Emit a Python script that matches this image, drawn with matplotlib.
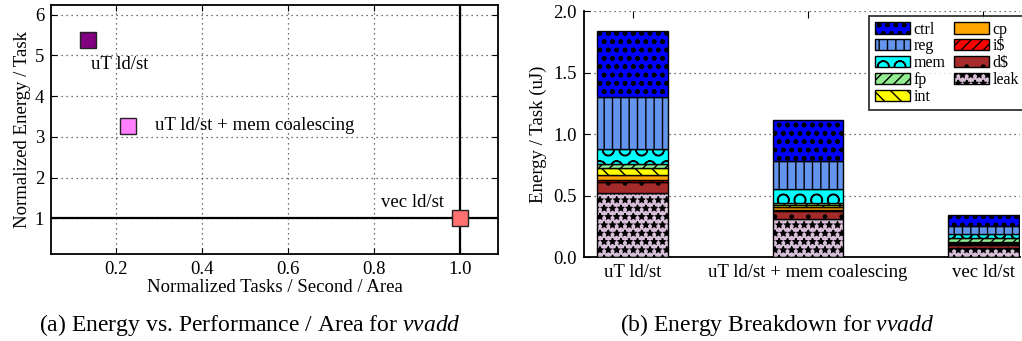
import numpy as np
import matplotlib.pyplot as plt

plt.rcParams['font.family'] = ['Liberation Serif', 'DejaVu Serif']
plt.rcParams['hatch.linewidth'] = 1.0
plt.rcParams['mathtext.fontset'] = 'custom'
plt.rcParams['mathtext.it'] = 'Liberation Serif:italic'

# (a) scatter: normalized perf/area vs normalized energy/task
configs = ["uT ld/st", "uT ld/st + mem coalescing", "vec ld/st"]
perf_area = [0.136, 0.229, 1.0]
energy_norm = [5.38, 3.26, 1.0]
marker_colors = ["#800080", "#ff80ff", "#ff7070"]

# (b) stacked energy breakdown (uJ per task), bottom to top
components = ["leak", "d$", "i$", "cp", "int", "fp", "mem", "reg", "ctrl"]
energy = {
    "leak": [0.52, 0.31, 0.07],
    "d$":   [0.09, 0.065, 0.03],
    "i$":   [0.015, 0.01, 0.005],
    "cp":   [0.04, 0.02, 0.01],
    "int":  [0.06, 0.015, 0.01],
    "fp":   [0.035, 0.02, 0.03],
    "mem":  [0.12, 0.11, 0.035],
    "reg":  [0.42, 0.23, 0.06],
    "ctrl": [0.54, 0.335, 0.095],
}
comp_colors = {"leak": "#d8bfd8", "d$": "#a52a2a", "i$": "#ff0000", "cp": "#ffa500",
               "int": "#ffff00", "fp": "#90ee90", "mem": "#00ffff", "reg": "#6495ed",
               "ctrl": "#0000ff"}
comp_hatch = {"leak": "**", "d$": ".", "i$": "///", "cp": "", "int": "\\\\",
              "fp": "///", "mem": "O", "reg": "||", "ctrl": "oo.."}
legend_order = ["ctrl", "reg", "mem", "fp", "int", "cp", "i$", "d$", "leak"]

# label positions for panel (a), data coords
label_xy = [(0.143, 4.77), (0.291, 3.29), (0.816, 1.38)]

fig = plt.figure(figsize=(10.22, 3.41), dpi=100)
fs = 13.5

# ---------- (a)
ax1 = fig.add_axes([0.0499, 0.2551, 0.4374, 0.7302])
ax1.set_xlim(0.05, 1.0875)
ax1.set_ylim(0.12, 6.24)
ax1.set_xticks([0.2, 0.4, 0.6, 0.8, 1.0])
ax1.set_yticks([1, 2, 3, 4, 5, 6])
ax1.grid(True, linestyle=(0, (1, 3)), color="#444444", linewidth=0.9)
ax1.axvline(1.0, color="black", linewidth=1.6, zorder=2)
ax1.axhline(1.0, color="black", linewidth=1.6, zorder=2)
for x, y, c in zip(perf_area, energy_norm, marker_colors):
    ax1.plot(x, y, "s", markersize=11.5, color=c, markeredgecolor="#222222",
             markeredgewidth=1.0, zorder=3)
for (lx, ly), name in zip(label_xy, configs):
    ax1.text(lx, ly, name, fontsize=fs, va="center", ha="left")
ax1.tick_params(direction="in", length=4, labelsize=fs, pad=5, top=True, right=True)
for s in ax1.spines.values():
    s.set_linewidth(1.3)
ax1.set_xlabel("Normalized Tasks / Second / Area", fontsize=fs, labelpad=1)
ax1.set_ylabel("Normalized Energy / Task", fontsize=fs, labelpad=3)

# ---------- (b)
ax2 = fig.add_axes([0.5714, 0.2463, 0.4266, 0.7214])
xpos = np.arange(len(configs))
bottom = np.zeros(len(configs))
handles = {}
for comp in components:
    vals = np.array(energy[comp])
    h = ax2.bar(xpos, vals, width=0.404, bottom=bottom, color=comp_colors[comp],
                hatch=comp_hatch[comp], edgecolor="black", linewidth=1.0, zorder=3,
                label=comp)
    handles[comp] = h
    bottom += vals
ax2.set_xlim(-0.278, 2.21)
ax2.set_ylim(0, 2.0)
ax2.set_yticks([0.0, 0.5, 1.0, 1.5, 2.0])
ax2.set_yticklabels(["0.0", "0.5", "1.0", "1.5", "2.0"])
ax2.set_xticks(xpos)
ax2.set_xticklabels(configs)
ax2.yaxis.grid(True, linestyle=(0, (1, 3)), color="#444444", linewidth=0.9)
ax2.spines["top"].set_visible(False)
ax2.spines["right"].set_visible(False)
for s in ["left", "bottom"]:
    ax2.spines[s].set_linewidth(1.3)
ax2.tick_params(direction="in", length=4, labelsize=fs, pad=5, top=True)
ax2.tick_params(axis="x", length=5)
ax2.set_ylabel("Energy / Task (uJ)", fontsize=fs, labelpad=5)

leg = ax2.legend([handles[c] for c in legend_order], legend_order, ncol=2,
                 loc="upper left", bbox_to_anchor=(0.8503, 0.9531),
                 bbox_transform=fig.transFigure, fontsize=11.5, frameon=True,
                 fancybox=False, borderaxespad=0, handlelength=2.2, handleheight=0.7,
                 labelspacing=0.05, columnspacing=0.5, handletextpad=0.25,
                 borderpad=0.35)
leg.get_frame().set_edgecolor("black")
leg.get_frame().set_linewidth(1.3)
leg.set_zorder(5)

# captions
fig.text(0.2446, 0.047, r"(a) Energy vs. Performance / Area for $vvadd$",
         ha="center", va="center", fontsize=17)
fig.text(0.760, 0.047, r"(b) Energy Breakdown for $vvadd$",
         ha="center", va="center", fontsize=17)

fig.savefig("out.png", dpi=100)
